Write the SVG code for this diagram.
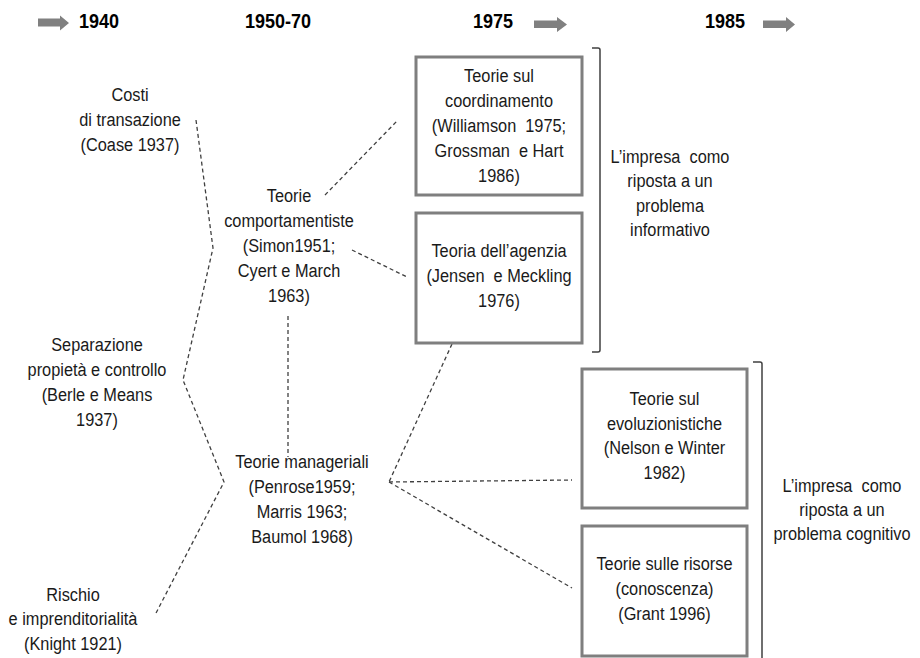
<svg xmlns="http://www.w3.org/2000/svg" width="920" height="658" viewBox="0 0 920 658">
<style>
.t{font-family:"Liberation Sans",Arial,sans-serif;font-size:19px;fill:#1a1a1a;text-anchor:middle}
.h{font-family:"Liberation Sans",Arial,sans-serif;font-size:20px;font-weight:bold;fill:#000}
.box{fill:#fff;stroke:#7f7f7f;stroke-width:3}
.dash{fill:none;stroke:#404040;stroke-width:1.3;stroke-dasharray:4 3}
.br{fill:none;stroke:#404040;stroke-width:1.5}
.arr{fill:#808080}
</style>
<rect width="920" height="658" fill="#fff"/>
<g id="header">
  <polygon class="arr" points="38,18.5 60,18.5 60,15.5 69,23 60,30.5 60,26.5 38,26.5"/>
  <g transform="translate(79 0) scale(0.9 1)"><text class="h" x="0" y="28">1940</text></g>
  <g transform="translate(245 0) scale(0.9 1)"><text class="h" x="0" y="28">1950-70</text></g>
  <g transform="translate(473 0) scale(0.9 1)"><text class="h" x="0" y="28">1975</text></g>
  <polygon class="arr" points="534,20.5 557,20.5 557,17 567,24.5 557,32 557,28 534,28"/>
  <g transform="translate(705 0) scale(0.9 1)"><text class="h" x="0" y="28">1985</text></g>
  <polygon class="arr" points="763,20.5 786,20.5 786,17 795,24.5 786,32 786,28 763,28"/>
</g>
<g id="connectors">
  <polyline class="dash" points="196,120 213,248 183,380 224,482 155,615"/>
  <line class="dash" x1="325" y1="195" x2="398" y2="120"/>
  <line class="dash" x1="352" y1="250" x2="407" y2="277"/>
  <line class="dash" x1="288" y1="316" x2="288" y2="457"/>
  <line class="dash" x1="452" y1="344" x2="389" y2="482"/>
  <line class="dash" x1="389" y1="482" x2="572" y2="480"/>
  <line class="dash" x1="389" y1="482" x2="572" y2="588"/>
</g>
<g id="costi-transazione">
  <g transform="translate(130 0) scale(0.86 1)"><text class="t"><tspan x="0" y="101">Costi</tspan><tspan x="0" y="126">di transazione</tspan><tspan x="0" y="151">(Coase 1937)</tspan></text></g>
</g>
<g id="separazione">
  <g transform="translate(97 0) scale(0.86 1)"><text class="t"><tspan x="0" y="351">Separazione</tspan><tspan x="0" y="376">propietà e controllo</tspan><tspan x="0" y="401">(Berle e Means</tspan><tspan x="0" y="426">1937)</tspan></text></g>
</g>
<g id="rischio">
  <g transform="translate(73 0) scale(0.86 1)"><text class="t"><tspan x="0" y="601">Rischio</tspan><tspan x="0" y="625">e imprenditorialità</tspan><tspan x="0" y="650">(Knight 1921)</tspan></text></g>
</g>
<g id="comportamentiste">
  <g transform="translate(289 0) scale(0.86 1)"><text class="t"><tspan x="0" y="202">Teorie</tspan><tspan x="0" y="227">comportamentiste</tspan><tspan x="0" y="252">(Simon1951;</tspan><tspan x="0" y="277">Cyert e March</tspan><tspan x="0" y="302">1963)</tspan></text></g>
</g>
<g id="manageriali">
  <g transform="translate(302 0) scale(0.86 1)"><text class="t"><tspan x="0" y="468">Teorie manageriali</tspan><tspan x="0" y="493">(Penrose1959;</tspan><tspan x="0" y="518">Marris 1963;</tspan><tspan x="0" y="543">Baumol 1968)</tspan></text></g>
</g>
<g id="coordinamento">
  <rect class="box" x="416" y="57" width="166" height="138"/>
  <g transform="translate(499 0) scale(0.86 1)"><text class="t"><tspan x="0" y="82">Teorie sul</tspan><tspan x="0" y="107">coordinamento</tspan><tspan x="0" y="132">(Williamson&#160; 1975;</tspan><tspan x="0" y="157">Grossman&#160; e Hart</tspan><tspan x="0" y="182">1986)</tspan></text></g>
</g>
<g id="agenzia">
  <rect class="box" x="416" y="213" width="166" height="130"/>
  <g transform="translate(499 0) scale(0.86 1)"><text class="t"><tspan x="0" y="257">Teoria dell’agenzia</tspan><tspan x="0" y="282">(Jensen&#160; e Meckling</tspan><tspan x="0" y="307">1976)</tspan></text></g>
</g>
<g id="evoluzionistiche">
  <rect class="box" x="582" y="369" width="165" height="139"/>
  <g transform="translate(664.5 0) scale(0.86 1)"><text class="t"><tspan x="0" y="405">Teorie sul</tspan><tspan x="0" y="430">evoluzionistiche</tspan><tspan x="0" y="454">(Nelson e Winter</tspan><tspan x="0" y="479">1982)</tspan></text></g>
</g>
<g id="risorse">
  <rect class="box" x="582" y="526" width="165" height="130"/>
  <g transform="translate(664.5 0) scale(0.86 1)"><text class="t"><tspan x="0" y="570">Teorie sulle risorse</tspan><tspan x="0" y="595">(conoscenza)</tspan><tspan x="0" y="620">(Grant 1996)</tspan></text></g>
</g>
<g id="gruppo-informativo">
  <path class="br" d="M592,48 H598 Q600,48 600,50 V350 Q600,352 598,352 H592"/>
  <g transform="translate(670 0) scale(0.86 1)"><text class="t"><tspan x="0" y="163">L’impresa&#160; como</tspan><tspan x="0" y="187.5">riposta a un</tspan><tspan x="0" y="212">problema</tspan><tspan x="0" y="236.5">informativo</tspan></text></g>
</g>
<g id="gruppo-cognitivo">
  <path class="br" d="M753,362 H760 Q762,362 762,364 V660"/>
  <g transform="translate(842 0) scale(0.86 1)"><text class="t"><tspan x="0" y="492">L’impresa&#160; como</tspan><tspan x="0" y="516">riposta a un</tspan><tspan x="0" y="540">problema cognitivo</tspan></text></g>
</g>
</svg>
